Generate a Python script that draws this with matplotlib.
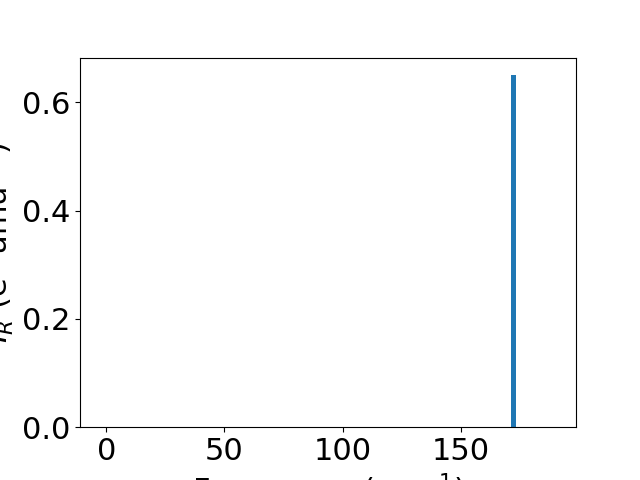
import matplotlib
matplotlib.use('Agg')
import matplotlib.pyplot as plt

# Data
frequencies = [172.2]
intensities = [0.65]
bar_width = 2.1

plt.rcParams['font.size'] = 22

fig, ax = plt.subplots(figsize=(6.4, 4.8), dpi=100)
ax.bar(frequencies, intensities, width=bar_width, color='#1f77b4')
ax.set_xlim(-11.1, 198.8)
ax.set_xlabel('Frequency (cm$^{-1}$)')
ax.set_ylabel('$I_R$ (e$^2$ amu$^{-1}$)')

fig.savefig('out.png')
